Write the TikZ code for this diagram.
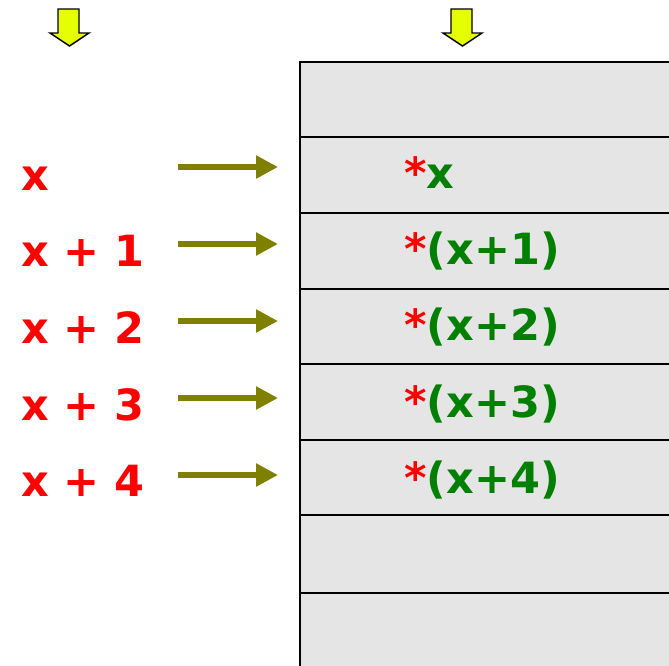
\documentclass[tikz,border=0pt]{standalone}
\usepackage{fontspec}
\setmainfont{DejaVu Sans}
\usetikzlibrary{arrows.meta}
\definecolor{cellgray}{RGB}{229,229,229}
\definecolor{arrowolive}{RGB}{128,128,0}
\definecolor{downyellow}{RGB}{230,255,0}
\definecolor{txtred}{RGB}{255,0,0}
\definecolor{txtgreen}{RGB}{0,128,0}
\tikzset{
  cell/.style={draw=black, line width=1.8pt, fill=cellgray},
  lbl/.style={anchor=base west, inner sep=0pt, text=txtred, font=\fontsize{43}{43}\selectfont\bfseries},
  val/.style={anchor=base west, inner sep=0pt, text=txtgreen, font=\fontsize{43}{43}\selectfont\bfseries},
  ptr/.style={draw=arrowolive, line width=6pt, -{Triangle[length=22pt,width=22pt]}},
  downarrow/.style={draw=black, line width=1.4pt, fill=downyellow, line join=miter}
}
\begin{document}
\begin{tikzpicture}[x=1pt,y=-1pt]
\useasboundingbox (0,0) rectangle (669,665);
% memory cells
\foreach \t/\b [count=\i] in {62/137,137/213,213/289,289/364,364/440,440/515,515/593,593/680}{
  \path[cell] (300,\t) rectangle (680,\b);
}
% downward yellow arrows
\foreach \dx in {0,393}{
  \draw[downarrow] (58+\dx,9) -- (79+\dx,9) -- (79+\dx,33) -- (89+\dx,33) -- (69.5+\dx,46) -- (50+\dx,33) -- (58+\dx,33) -- cycle;
}
% labels
\node[lbl] (l0) at (21,190) {x};
\node[lbl] (l1) at (21,266) {x + 1};
\node[lbl] (l2) at (21,343) {x + 2};
\node[lbl] (l3) at (21,420) {x + 3};
\node[lbl] (l4) at (21,496) {x + 4};
% contents
\node[val] (v0) at (404,188) {\textcolor{txtred}{*}x};
\node[val] (v1) at (404,264) {\textcolor{txtred}{*}(x+1)};
\node[val] (v2) at (404,340) {\textcolor{txtred}{*}(x+2)};
\node[val] (v3) at (404,417) {\textcolor{txtred}{*}(x+3)};
\node[val] (v4) at (404,493) {\textcolor{txtred}{*}(x+4)};
% pointer arrows
\foreach \y [count=\i from 0] in {167,244,321,398,475}{
  \coordinate (s\i) at (178,\y);
  \coordinate (e\i) at (278,\y);
  \draw[ptr] (s\i) -- (e\i);
}
\end{tikzpicture}
\end{document}
